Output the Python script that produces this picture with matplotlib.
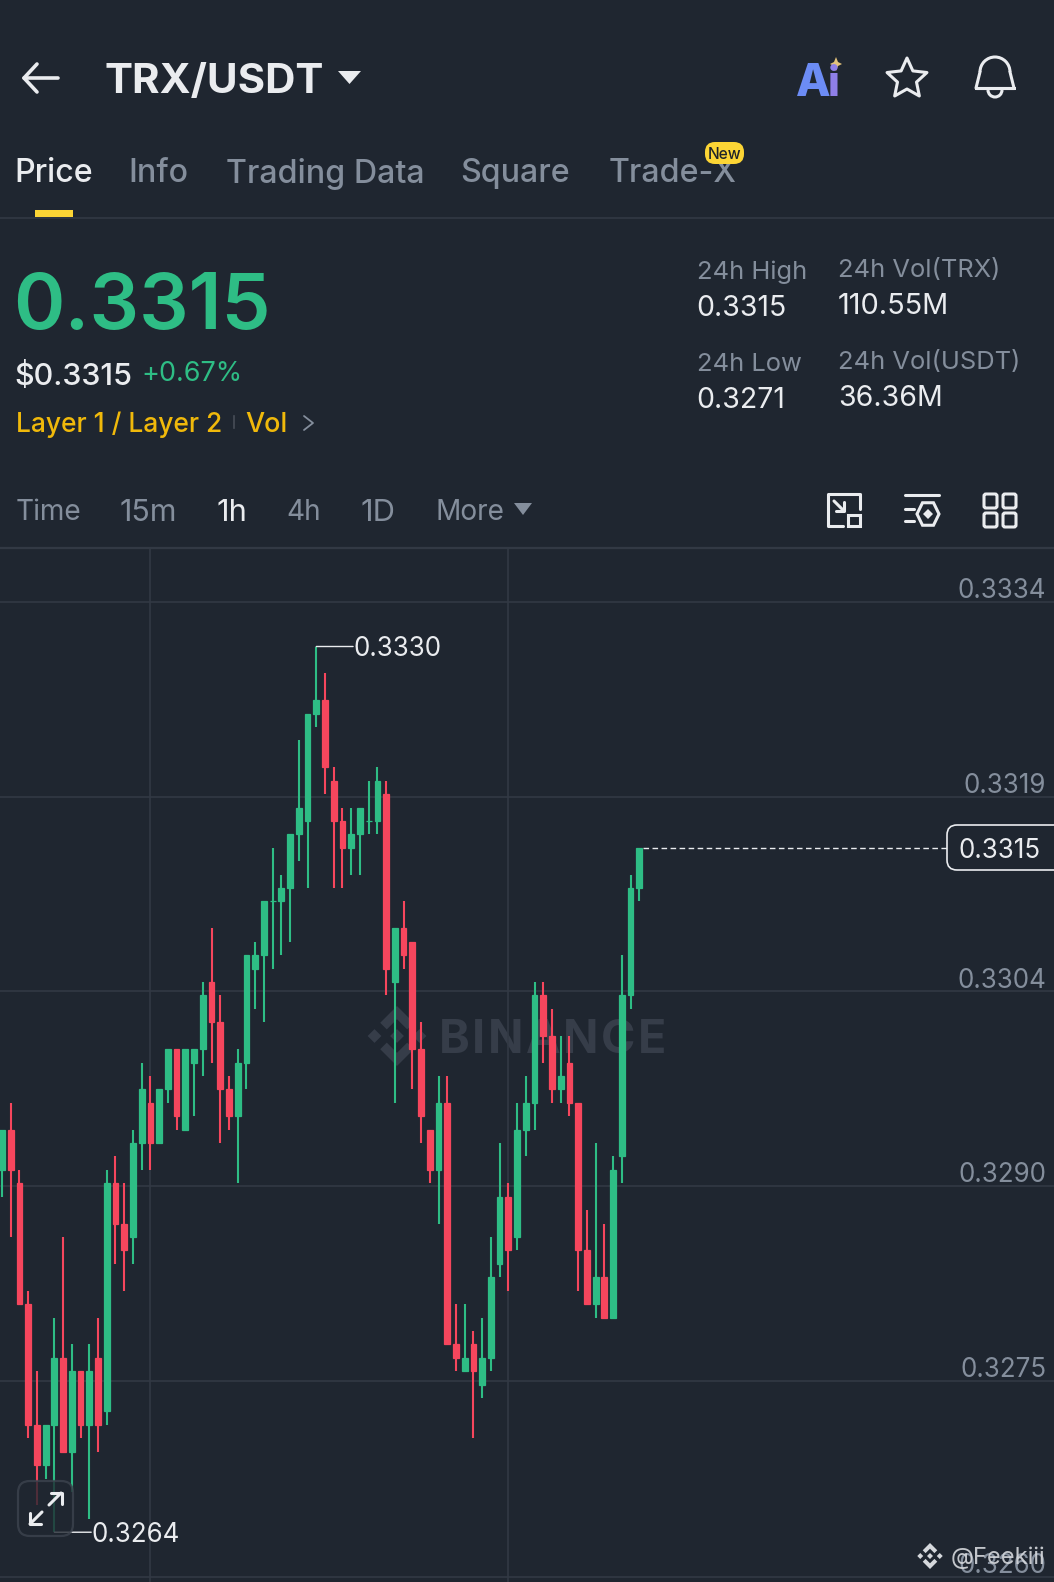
import numpy as np
import matplotlib
matplotlib.use('Agg')
import matplotlib.pyplot as plt
from matplotlib.patches import FancyBboxPatch, Polygon, Arc, Rectangle

plt.rcParams['font.family'] = ['Inter', 'DejaVu Sans']

opens = [.3291, .3294, .3290, .3281, .3272, .3269, .3272, .3277, .3270, .3276,
         .3272, .3277, .3273, .3290, .3287, .3286, .3293, .3296, .3293, .3297,
         .3300, .3294, .3299, .3300, .3305, .3302, .3297, .3295, .3299, .3306,
         .3307, .3311, .3311, .3312, .3316, .3317, .3325, .3326, .3320, .3317,
         .3315, .3316, .3317, .3317, .3319, .3305, .3309, .3308, .3300, .3294,
         .3291, .3296, .3278, .3276, .3278, .3275, .3277, .3284, .3289, .3286,
         .3294, .3296, .3304, .3301, .3297, .3299, .3296, .3285, .3281, .3283,
         .3280, .3292, .3304, .3312]
highs = [.3294, .3296, .3291, .3282, .3276, .3272, .3280, .3286, .3278, .3276,
         .3278, .3280, .3291, .3292, .3290, .3294, .3299, .3298, .3297, .3300,
         .3300, .3300, .3300, .3305, .3309, .3304, .3298, .3300, .3307, .3308,
         .3311, .3315, .3313, .3316, .3323, .3325, .3330, .3328, .3321, .3318,
         .3318, .3318, .3320, .3321, .3320, .3309, .3311, .3308, .3302, .3294,
         .3298, .3298, .3281, .3281, .3279, .3280, .3286, .3293, .3290, .3296,
         .3298, .3305, .3305, .3303, .3301, .3301, .3296, .3288, .3293, .3287,
         .3292, .3307, .3313, .3315]
lows = [.3289, .3286, .3281, .3271, .3266, .3268, .3264, .3270, .3267, .3271,
        .3265, .3270, .3272, .3284, .3282, .3284, .3291, .3291, .3293, .3296,
        .3294, .3294, .3295, .3298, .3299, .3293, .3294, .3290, .3297, .3303,
        .3302, .3306, .3307, .3308, .3314, .3312, .3324, .3319, .3312, .3312,
        .3313, .3313, .3316, .3316, .3304, .3296, .3306, .3297, .3293, .3290,
        .3287, .3278, .3276, .3276, .3271, .3274, .3276, .3283, .3282, .3285,
        .3292, .3294, .3299, .3296, .3296, .3295, .3282, .3281, .3280, .3280,
        .3280, .3290, .3303, .3311]
closes = [.3294, .3291, .3281, .3272, .3269, .3272, .3277, .3270, .3276, .3272,
          .3276, .3272, .3290, .3287, .3285, .3293, .3297, .3293, .3297, .3300,
          .3295, .3300, .3300, .3304, .3302, .3297, .3295, .3299, .3307, .3307,
          .3311, .3311, .3312, .3316, .3318, .3325, .3326, .3321, .3317, .3315,
          .3316, .3318, .3317, .3320, .3306, .3309, .3307, .3300, .3295, .3291,
          .3296, .3278, .3277, .3277, .3276, .3277, .3283, .3289, .3285, .3294,
          .3296, .3304, .3301, .3297, .3298, .3296, .3285, .3281, .3283, .3280,
          .3291, .3304, .3312, .3315]

grid_prices = [.33333, .33188, .33043, .32898, .32753, .32607]
grid_labels = ['0.3334', '0.3319', '0.3304', '0.3290', '0.3275', '0.3260']
grid_candles = [17, 58]

tabs = ['Price', 'Info', 'Trading Data', 'Square', 'Trade-X']
tab_x = [14, 128, 226, 460, 609]
intervals = ['Time', '15m', '1h', '4h', '1D', 'More']
interval_x = [16, 120, 216, 286, 360, 435]
interval_size = [28, 30.5, 31, 28, 31, 28]

BG = '#1f2630'
GREEN = '#2ebd85'
RED = '#f6465d'
GRAY = '#848e9c'
WHITE = '#eaecef'
YELLOW = '#f0b90b'
LINE = '#323944'


def px(size):
    """font size in points from a size in pixels"""
    return size * 0.72


def label(ax, x, y, s, size, color=WHITE, **kw):
    kw.setdefault('va', 'center_baseline')
    return ax.text(x, y, s, fontsize=px(size), color=color, **kw)


def stroke(ax, xs, ys, color=WHITE, lw=2.2):
    ax.plot(xs, ys, color=color, lw=lw, solid_capstyle='round', solid_joinstyle='round')


def round_box(ax, x, y, w, h, r, **kw):
    box = FancyBboxPatch((x + r, y + r), w - 2 * r, h - 2 * r,
                         boxstyle='round,pad=%f,rounding_size=%f' % (r, r), **kw)
    ax.add_patch(box)


def binance_logo(ax, cx, cy, s, color):
    """the diamond logo, s is half its height"""
    t = s * 0.23
    for dx, dy in [(0, 0), (-s * 0.75, 0), (s * 0.75, 0)]:
        ax.add_patch(Polygon([(cx + dx - t, cy + dy), (cx + dx, cy + dy - t),
                              (cx + dx + t, cy + dy), (cx + dx, cy + dy + t)], color=color, lw=0))
    for sign in [-1, 1]:
        ax.add_patch(Polygon([(cx, cy + sign * s), (cx + s * 0.56, cy + sign * s * 0.44),
                              (cx + s * 0.34, cy + sign * s * 0.22), (cx, cy + sign * s * 0.56),
                              (cx - s * 0.34, cy + sign * s * 0.22), (cx - s * 0.56, cy + sign * s * 0.44)],
                             color=color, lw=0))


def spaced_word(fig, ax, x, y, word, size, color, gap):
    """writes a word letter by letter, the watermark is wider than the font"""
    renderer = fig.canvas.get_renderer()
    for ch in word:
        t = label(ax, x, y, ch, size, color, fontweight='bold')
        x += t.get_window_extent(renderer).width + gap


def draw_candles(ax):
    o, h, l, c = [np.array(a) for a in (opens, highs, lows, closes)]
    idx = np.arange(len(o))
    colors = [GREEN if c[i] >= o[i] else RED for i in idx]
    ax.vlines(idx, l, h, colors=colors, lw=1.5, zorder=3)
    ax.bar(idx, np.abs(c - o), bottom=np.minimum(o, c), width=0.66, color=colors,
           edgecolor=colors, lw=0.9, zorder=4)


def draw_chart(fig):
    top_px, bottom_px = 549, 1582
    ax = fig.add_axes([0, 0, 1, (bottom_px - top_px) / bottom_px], zorder=2)
    ax.patch.set_alpha(0)
    ax.set_xlim((0 - 2) / 8.73, (1054 - 2) / 8.73)
    ax.set_ylim(.3330 - (bottom_px - 646.5) / 134200, .3330 + (646.5 - top_px) / 134200)
    for s in ax.spines.values():
        s.set_visible(False)
    ax.set_xticks(grid_candles)
    ax.set_yticks(grid_prices)
    ax.tick_params(length=0, labelleft=False, labelbottom=False)
    ax.grid(color=LINE, lw=1.2)
    ax.set_axisbelow(True)
    draw_candles(ax)

    for p, s in zip(grid_prices, grid_labels):
        ax.annotate(s, (1, p), xycoords=('axes fraction', 'data'), xytext=(-5.5, 10),
                    textcoords='offset points', ha='right', va='center_baseline',
                    fontsize=px(26), color=GRAY, zorder=5)

    # high and low markers
    i_hi, i_lo = int(np.argmax(highs)), int(np.argmin(lows))
    for i, p in [(i_hi, highs[i_hi]), (i_lo, lows[i_lo])]:
        ax.annotate('', (i, p), xytext=(26.5, 0), textcoords='offset points',
                    arrowprops=dict(arrowstyle='-', color=WHITE, lw=1, shrinkA=0, shrinkB=0))
        ax.annotate('%.4f' % p, (i, p), xytext=(26.5, 0), textcoords='offset points',
                    va='center_baseline', fontsize=px(26), color=WHITE, zorder=5)

    # last price line and box
    last = closes[-1]
    ax.plot([len(closes) - 1 + 0.4, (947 - 2) / 8.73], [last, last], color=WHITE, lw=1,
            ls=(0, (4, 2.5)), zorder=3)
    return ax


def draw_icons(ax):
    # back arrow
    stroke(ax, [24, 58], [78, 78], lw=2.6)
    stroke(ax, [37, 24, 37], [64, 78, 92], lw=2.6)
    # title caret
    ax.add_patch(Polygon([(338, 71), (361, 71), (349.5, 84)], color=WHITE, lw=0))
    # Ai
    label(ax, 796, 80, 'A', 45, '#6c8cf5', fontweight='heavy')
    label(ax, 828, 81, 'i', 42, '#8f7fe8', fontweight='heavy')
    ax.add_patch(Polygon([(836, 57), (838, 62), (842, 64), (838, 66), (836, 71), (834, 66),
                          (830, 64), (834, 62)], color='#e3c27a', lw=0))
    # star
    ang = np.deg2rad(np.arange(-90, 270, 36))
    rad = np.where(np.arange(10) % 2 == 0, 21, 10)
    ax.add_patch(Polygon(np.column_stack([907 + rad * np.cos(ang), 79 + rad * np.sin(ang)]),
                         fill=False, ec=WHITE, lw=2.2, joinstyle='round'))
    # bell
    stroke(ax, [976, 978, 980], [88, 80, 72])
    stroke(ax, [1014, 1012, 1010], [88, 80, 72])
    ax.add_patch(Arc((995, 72), 30, 30, theta1=180, theta2=360, color=WHITE, lw=2.2))
    stroke(ax, [976, 1014, 976], [88, 88, 88])
    ax.add_patch(Arc((995, 90), 14, 14, theta1=0, theta2=180, color=WHITE, lw=2.2))
    # layout icon
    stroke(ax, [860, 860, 828, 828, 843], [509, 494, 494, 526, 526])
    stroke(ax, [834, 844], [501, 511])
    stroke(ax, [844, 844, 836], [502, 511, 511])
    ax.add_patch(Rectangle((848, 515), 12, 11, fill=False, ec=WHITE, lw=2.2))
    # settings icon
    stroke(ax, [905, 939], [495, 495])
    stroke(ax, [905, 914], [509, 509])
    stroke(ax, [905, 914], [521, 521])
    hexa = np.deg2rad(np.arange(30, 390, 60))
    ax.add_patch(Polygon(np.column_stack([928 + 11 * np.cos(hexa + np.pi / 6), 514 + 13 * np.sin(hexa + np.pi / 6)]),
                         fill=False, ec=WHITE, lw=2.2))
    ax.add_patch(Polygon([(928, 509), (933, 514), (928, 519), (923, 514)], color=WHITE, lw=0))
    # grid icon
    for gx in [984, 1003]:
        for gy in [494, 513]:
            ax.add_patch(FancyBboxPatch((gx + 2, gy + 2), 9, 10, boxstyle='round,pad=2,rounding_size=2',
                                        fill=False, ec=WHITE, lw=2.2))


def draw_header(ax):
    label(ax, 105, 78, 'TRX/USDT', 42, fontweight='bold')
    for i, (s, x) in enumerate(zip(tabs, tab_x)):
        label(ax, x, 170, s, 32.2, WHITE if i == 0 else GRAY, fontweight='medium')
    round_box(ax, 705, 142, 39, 22, 10, color='#fcd535', lw=0, zorder=3)
    label(ax, 724.5, 153, 'New', 15.5, '#1e2329', ha='center', fontweight='medium', zorder=4)
    ax.add_patch(Rectangle((35, 210), 38, 6.5, color='#fcd535', lw=0))
    ax.plot([0, 1054], [218, 218], color=LINE, lw=1.2)

    label(ax, 13, 300, '0.3315', 78, GREEN, fontweight='semibold')
    label(ax, 14, 373, '$0.3315', 30.5, fontweight='medium')
    label(ax, 141, 371, '+0.67%', 27, GREEN)
    label(ax, 16, 422, 'Layer 1 / Layer 2', 26.4, YELLOW, fontweight='medium')
    ax.plot([234, 234], [416, 428], color='#474d57', lw=1.2)
    label(ax, 245, 422, 'Vol', 27, YELLOW, fontweight='medium')
    stroke(ax, [304, 313, 304], [416, 423, 430], color=GRAY, lw=1.3)

    label(ax, 697, 270, '24h High', 25.5, GRAY)
    label(ax, 696, 306, '0.3315', 28.5)
    label(ax, 697, 362, '24h Low', 25.5, GRAY)
    label(ax, 696, 398, '0.3271', 28.5)
    label(ax, 838, 268, '24h Vol(TRX)', 25.5, GRAY)
    label(ax, 838, 304, '110.55M', 29)
    label(ax, 838, 360, '24h Vol(USDT)', 25.5, GRAY)
    label(ax, 838, 396, '36.36M', 28.5)

    for s, x, size in zip(intervals, interval_x, interval_size):
        label(ax, x, 510, s, size, WHITE if s == '1h' else GRAY)
    ax.add_patch(Polygon([(514, 503), (532, 503), (523, 515)], color=GRAY, lw=0))
    ax.plot([0, 1054], [548, 548], color=LINE, lw=1.6)


def main():
    fig = plt.figure(figsize=(10.54, 15.82), dpi=100, facecolor=BG)

    under = fig.add_axes([0, 0, 1, 1], zorder=1)
    under.set_xlim(0, 1054)
    under.set_ylim(1582, 0)
    under.axis('off')
    binance_logo(under, 397, 1036, 30, '#363d49')
    spaced_word(fig, under, 439, 1036, 'BINANCE', 46.5, '#363d49', 2.4)
    draw_header(under)
    draw_icons(under)

    draw_chart(fig)

    top = fig.add_axes([0, 0, 1, 1], zorder=3)
    top.patch.set_alpha(0)
    top.set_xlim(0, 1054)
    top.set_ylim(1582, 0)
    top.axis('off')

    # price box
    round_box(top, 947, 825, 120, 45, 10, fc=BG, ec=WHITE, lw=1.2, clip_on=True)
    label(top, 959, 848, '%.4f' % closes[-1], 26)

    # expand button
    round_box(top, 18, 1481, 55, 55, 12, fc=BG, ec='#3d444f', lw=1.6, alpha=0.78)
    stroke(top, [49, 61], [1505, 1493], lw=2.2)
    stroke(top, [51, 62, 62], [1493, 1493, 1504], lw=2.2)
    stroke(top, [42, 30], [1512, 1524], lw=2.2)
    stroke(top, [30, 30, 41], [1513, 1524, 1524], lw=2.2)

    # credit
    binance_logo(top, 930, 1556, 13, '#d5d8dc')
    label(top, 951, 1555, '@Feekiii', 23.7, '#d5d8dc', alpha=0.9)

    fig.savefig('out.png', dpi=100, facecolor=BG)


main()
